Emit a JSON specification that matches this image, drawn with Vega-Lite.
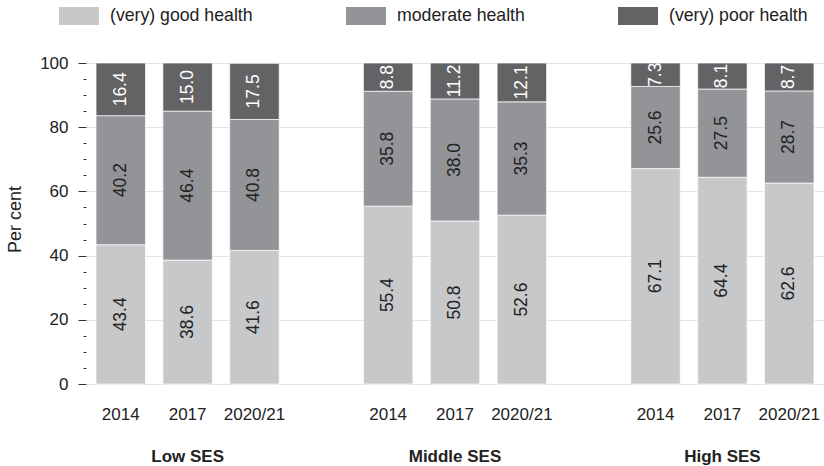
{
  "$schema": "https://vega.github.io/schema/vega-lite/v6.json",
  "width": 738,
  "height": 321,
  "autosize": {"type": "none"},
  "padding": {"left": 86, "top": 63, "right": 0, "bottom": 82},
  "background": "white",
  "config": {
    "font": "Liberation Sans",
    "view": {"stroke": null},
    "text": {"font": "Liberation Sans"}
  },
  "data": {
    "values": [
      {"slot": "Low SES|2014", "health": "(very) good health", "value": 43.4},
      {"slot": "Low SES|2014", "health": "moderate health", "value": 40.2},
      {"slot": "Low SES|2014", "health": "(very) poor health", "value": 16.4},
      {"slot": "Low SES|2017", "health": "(very) good health", "value": 38.6},
      {"slot": "Low SES|2017", "health": "moderate health", "value": 46.4},
      {"slot": "Low SES|2017", "health": "(very) poor health", "value": 15.0},
      {"slot": "Low SES|2020/21", "health": "(very) good health", "value": 41.6},
      {"slot": "Low SES|2020/21", "health": "moderate health", "value": 40.8},
      {"slot": "Low SES|2020/21", "health": "(very) poor health", "value": 17.5},
      {"slot": "Middle SES|2014", "health": "(very) good health", "value": 55.4},
      {"slot": "Middle SES|2014", "health": "moderate health", "value": 35.8},
      {"slot": "Middle SES|2014", "health": "(very) poor health", "value": 8.8},
      {"slot": "Middle SES|2017", "health": "(very) good health", "value": 50.8},
      {"slot": "Middle SES|2017", "health": "moderate health", "value": 38.0},
      {"slot": "Middle SES|2017", "health": "(very) poor health", "value": 11.2},
      {"slot": "Middle SES|2020/21", "health": "(very) good health", "value": 52.6},
      {"slot": "Middle SES|2020/21", "health": "moderate health", "value": 35.3},
      {"slot": "Middle SES|2020/21", "health": "(very) poor health", "value": 12.1},
      {"slot": "High SES|2014", "health": "(very) good health", "value": 67.1},
      {"slot": "High SES|2014", "health": "moderate health", "value": 25.6},
      {"slot": "High SES|2014", "health": "(very) poor health", "value": 7.3},
      {"slot": "High SES|2017", "health": "(very) good health", "value": 64.4},
      {"slot": "High SES|2017", "health": "moderate health", "value": 27.5},
      {"slot": "High SES|2017", "health": "(very) poor health", "value": 8.1},
      {"slot": "High SES|2020/21", "health": "(very) good health", "value": 62.6},
      {"slot": "High SES|2020/21", "health": "moderate health", "value": 28.7},
      {"slot": "High SES|2020/21", "health": "(very) poor health", "value": 8.7}
    ]
  },
  "transform": [
    {"calculate": "indexof(['(very) good health','moderate health','(very) poor health'], datum.health)", "as": "k"},
    {"stack": "value", "groupby": ["slot"], "sort": [{"field": "k", "order": "ascending"}], "as": ["v0", "v1"]},
    {"calculate": "(datum.v0 + datum.v1) / 2", "as": "mid"}
  ],
  "layer": [
    {
      "mark": {"type": "bar", "stroke": "white", "strokeWidth": 1, "strokeOpacity": 0.7},
      "encoding": {
        "x": {
          "field": "slot",
          "type": "nominal",
          "sort": null,
          "scale": {
            "domain": ["Low SES|2014", "Low SES|2017", "Low SES|2020/21", "gap1", "Middle SES|2014", "Middle SES|2017", "Middle SES|2020/21", "gap2", "High SES|2014", "High SES|2017", "High SES|2020/21"],
            "paddingInner": 0.26,
            "paddingOuter": 0.15
          },
          "axis": {
            "orient": "bottom",
            "title": null,
            "labelExpr": "indexof(datum.value, '|') > 0 ? split(datum.value, '|')[1] : ''",
            "ticks": false,
            "domain": false,
            "grid": false,
            "labelAngle": 0,
            "labelFontSize": 17,
            "labelColor": "#222222",
            "labelPadding": 22,
            "labelOverlap": false
          }
        },
        "y": {
          "field": "v0",
          "type": "quantitative",
          "title": "Per cent",
          "scale": {"domain": [0, 100], "nice": false},
          "axis": {
            "values": [0, 5, 10, 15, 20, 25, 30, 35, 40, 45, 50, 55, 60, 65, 70, 75, 80, 85, 90, 95, 100],
            "labelExpr": "datum.value % 20 == 0 ? datum.label : ''",
            "tickSize": 8,
            "tickDash": {"condition": {"test": "datum.value % 20 == 0", "value": [100, 1]}, "value": [3, 20]},
            "tickColor": "#333333",
            "tickWidth": 1,
            "grid": true,
            "gridColor": "#e3e3e3",
            "gridOpacity": {"condition": {"test": "datum.value % 20 == 0", "value": 1}, "value": 0},
            "domain": false,
            "labelFontSize": 17,
            "labelColor": "#222222",
            "labelPadding": 10,
            "labelOverlap": false,
            "titleFontSize": 18,
            "titleFontWeight": "normal",
            "titleColor": "#222222",
            "titleAngle": 270,
            "titleX": -66,
            "titleY": 156,
            "titleAlign": "center",
            "titleBaseline": "alphabetic"
          }
        },
        "y2": {"field": "v1"},
        "color": {
          "field": "health",
          "type": "nominal",
          "scale": {
            "domain": ["(very) good health", "moderate health", "(very) poor health"],
            "range": ["#c7c8ca", "#939497", "#636365"]
          },
          "legend": {
            "title": null,
            "orient": "none",
            "direction": "horizontal",
            "legendX": -27,
            "legendY": -67,
            "padding": 0,
            "columnPadding": 93,
            "labelOffset": 11,
            "labelFontSize": 17.7,
            "labelColor": "#222222",
            "symbolType": "M-1,-0.45H1V0.45H-1Z",
            "symbolSize": 1600,
            "symbolStrokeWidth": 0,
            "symbolOpacity": 1
          }
        }
      }
    },
    {
      "mark": {"type": "text", "angle": 270, "fontSize": 17.5, "clip": true, "align": "center", "baseline": "middle"},
      "encoding": {
        "x": {
          "field": "slot",
          "type": "nominal",
          "sort": null,
          "axis": {
            "orient": "bottom",
            "title": null,
            "labelExpr": "indexof(datum.value, '|2017') > 0 ? split(datum.value, '|')[0] : ''",
            "ticks": false,
            "domain": false,
            "grid": false,
            "labelAngle": 0,
            "labelFontSize": 17,
            "labelFontWeight": "bold",
            "labelColor": "#222222",
            "labelPadding": 64,
            "labelOverlap": false,
            "labelBound": false
          }
        },
        "y": {
          "field": "mid",
          "type": "quantitative",
          "title": "Per cent",
          "axis": {
            "values": [0, 5, 10, 15, 20, 25, 30, 35, 40, 45, 50, 55, 60, 65, 70, 75, 80, 85, 90, 95, 100],
            "labelExpr": "datum.value % 20 == 0 ? datum.label : ''",
            "tickSize": 8,
            "tickDash": {"condition": {"test": "datum.value % 20 == 0", "value": [100, 1]}, "value": [3, 20]},
            "tickColor": "#333333",
            "tickWidth": 1,
            "grid": true,
            "gridColor": "#e3e3e3",
            "gridOpacity": {"condition": {"test": "datum.value % 20 == 0", "value": 1}, "value": 0},
            "domain": false,
            "labelFontSize": 17,
            "labelColor": "#222222",
            "labelPadding": 10,
            "labelOverlap": false,
            "titleFontSize": 18,
            "titleFontWeight": "normal",
            "titleColor": "#222222",
            "titleAngle": 270,
            "titleX": -66,
            "titleY": 156,
            "titleAlign": "center",
            "titleBaseline": "alphabetic"
          }
        },
        "text": {"field": "value", "type": "quantitative", "format": ".1f"},
        "color": {"condition": {"test": "datum.health == '(very) poor health'", "value": "#ffffff"}, "value": "#222222"}
      }
    }
  ],
  "resolve": {"axis": {"x": "independent"}}
}
